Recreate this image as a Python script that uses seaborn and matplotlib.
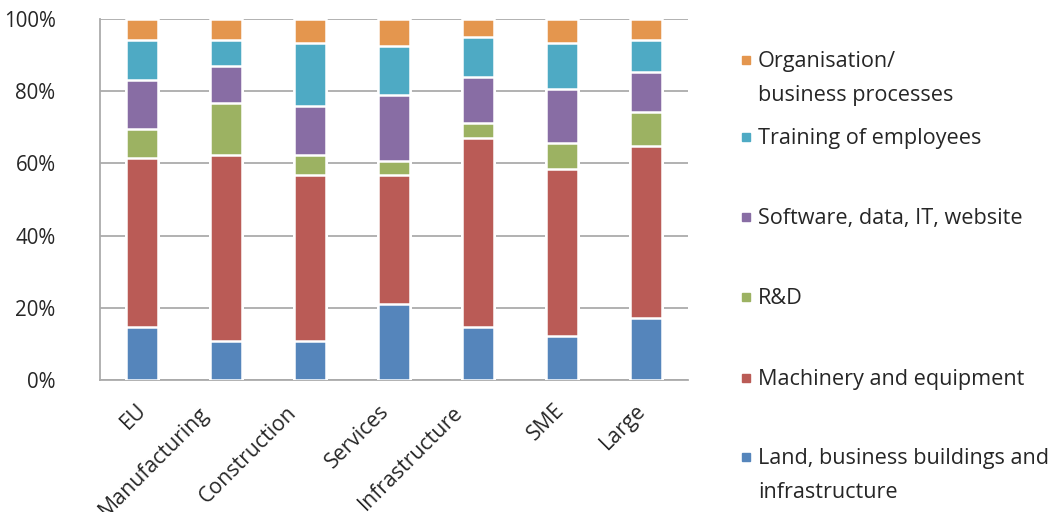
import numpy as np
import pandas as pd
import matplotlib
matplotlib.use('Agg')
from matplotlib import pyplot as plt
from matplotlib.patches import Rectangle
from matplotlib.transforms import ScaledTranslation
import seaborn as sb


CATEGORIES = ['EU', 'Manufacturing', 'Construction', 'Services', 'Infrastructure', 'SME', 'Large']

# shares in percent, bottom to top
LAND = [14.8, 10.8, 10.8, 21.1, 14.6, 12.3, 17.1]
MACHINERY = [46.8, 51.5, 46.0, 35.7, 52.5, 46.1, 47.7]
RND = [7.9, 14.3, 5.5, 4.0, 4.0, 7.2, 9.3]
SOFTWARE = [13.6, 10.4, 13.6, 18.1, 12.7, 15.0, 11.3]
TRAINING = [11.1, 7.2, 17.4, 13.6, 11.1, 12.7, 8.8]
ORGANISATION = [5.8, 5.8, 6.7, 7.5, 5.1, 6.7, 5.8]

SERIES = ['Land, business buildings and\ninfrastructure', 'Machinery and equipment', 'R&D',
          'Software, data, IT, website', 'Training of employees', 'Organisation/\nbusiness processes']
COLORS = ['#5585BB', '#BA5B56', '#9CB262', '#886DA4', '#4EAAC4', '#E4964E']

Y_TICKS = [0, 20, 40, 60, 80, 100]
Y_LABELS = ['0%', '20%', '40%', '60%', '80%', '100%']

W, H = 1052, 512
GRID = '#ABABAB'
XFONT = 15.3


def main():
    sb.set_style('white')
    plt.rcParams['font.family'] = ['Open Sans', 'DejaVu Sans']

    df = pd.DataFrame([LAND, MACHINERY, RND, SOFTWARE, TRAINING, ORGANISATION],
                      index=SERIES, columns=CATEGORIES).T
    cum = df.cumsum(axis=1)

    fig = plt.figure(figsize=(W / 100, H / 100), dpi=100)
    ax = fig.add_axes([100 / W, 1 - 380 / H, 588 / W, 361 / H])

    # draw cumulative totals from the top down so the segments stack
    for name, color in reversed(list(zip(SERIES, COLORS))):
        sb.barplot(x=CATEGORIES, y=cum[name].values, color=color, width=0.38,
                   edgecolor='white', linewidth=1.8, saturation=1, ax=ax, zorder=3)

    ax.set_ylim(0, 100)
    ax.set_xlim(-0.5, len(CATEGORIES) - 0.5)
    ax.set_yticks(Y_TICKS)
    ax.set_yticklabels(Y_LABELS, fontsize=14.8)
    ax.yaxis.grid(True, color=GRID, linewidth=1.3, zorder=0)
    ax.set_axisbelow(True)

    ax.set_xticks(range(len(CATEGORIES)))
    ax.set_xticklabels(CATEGORIES, rotation=45, ha='right', va='top',
                       rotation_mode='anchor', fontsize=XFONT)
    ax.tick_params(axis='x', which='major', length=0, pad=11)
    ax.set_xticks(np.arange(-0.5, len(CATEGORIES)), minor=True)
    ax.tick_params(axis='x', which='minor', length=6, color=GRID, width=1.2, direction='out')
    ax.tick_params(axis='y', length=6, color=GRID, width=1.2, direction='out', pad=26)
    ax.set_xlabel('')
    ax.set_ylabel('')
    for side in ['top', 'right']:
        ax.spines[side].set_visible(False)
    for side in ['left', 'bottom']:
        ax.spines[side].set_color(GRID)
        ax.spines[side].set_linewidth(1.3)

    # excel pulls longer rotated labels further left
    renderer = fig.canvas.get_renderer()
    for lbl in ax.get_xticklabels():
        tmp = fig.text(0, 0, lbl.get_text(), fontsize=XFONT)
        w = tmp.get_window_extent(renderer).width
        tmp.remove()
        dx = -(1 + 0.18 * w)
        dy = -(3 + 0.03 * w)
        lbl.set_transform(lbl.get_transform() + ScaledTranslation(dx / 100, dy / 100, fig.dpi_scale_trans))

    # legend, top entry first
    rows = [60, 137, 217, 297, 378, 457]
    for y, name, color in zip(rows, reversed(SERIES), reversed(COLORS)):
        fig.add_artist(Rectangle((742 / W, 1 - (y + 4) / H), 8 / W, 8 / H,
                                 transform=fig.transFigure, color=color))
        for i, line in enumerate(name.split('\n')):
            fig.text(758 / W, 1 - (y + 7 + 34 * i) / H, line, fontsize=15.6,
                     va='baseline', ha='left')

    fig.savefig('out.png', dpi=100)
    plt.close()


if __name__ == '__main__':
    main()
